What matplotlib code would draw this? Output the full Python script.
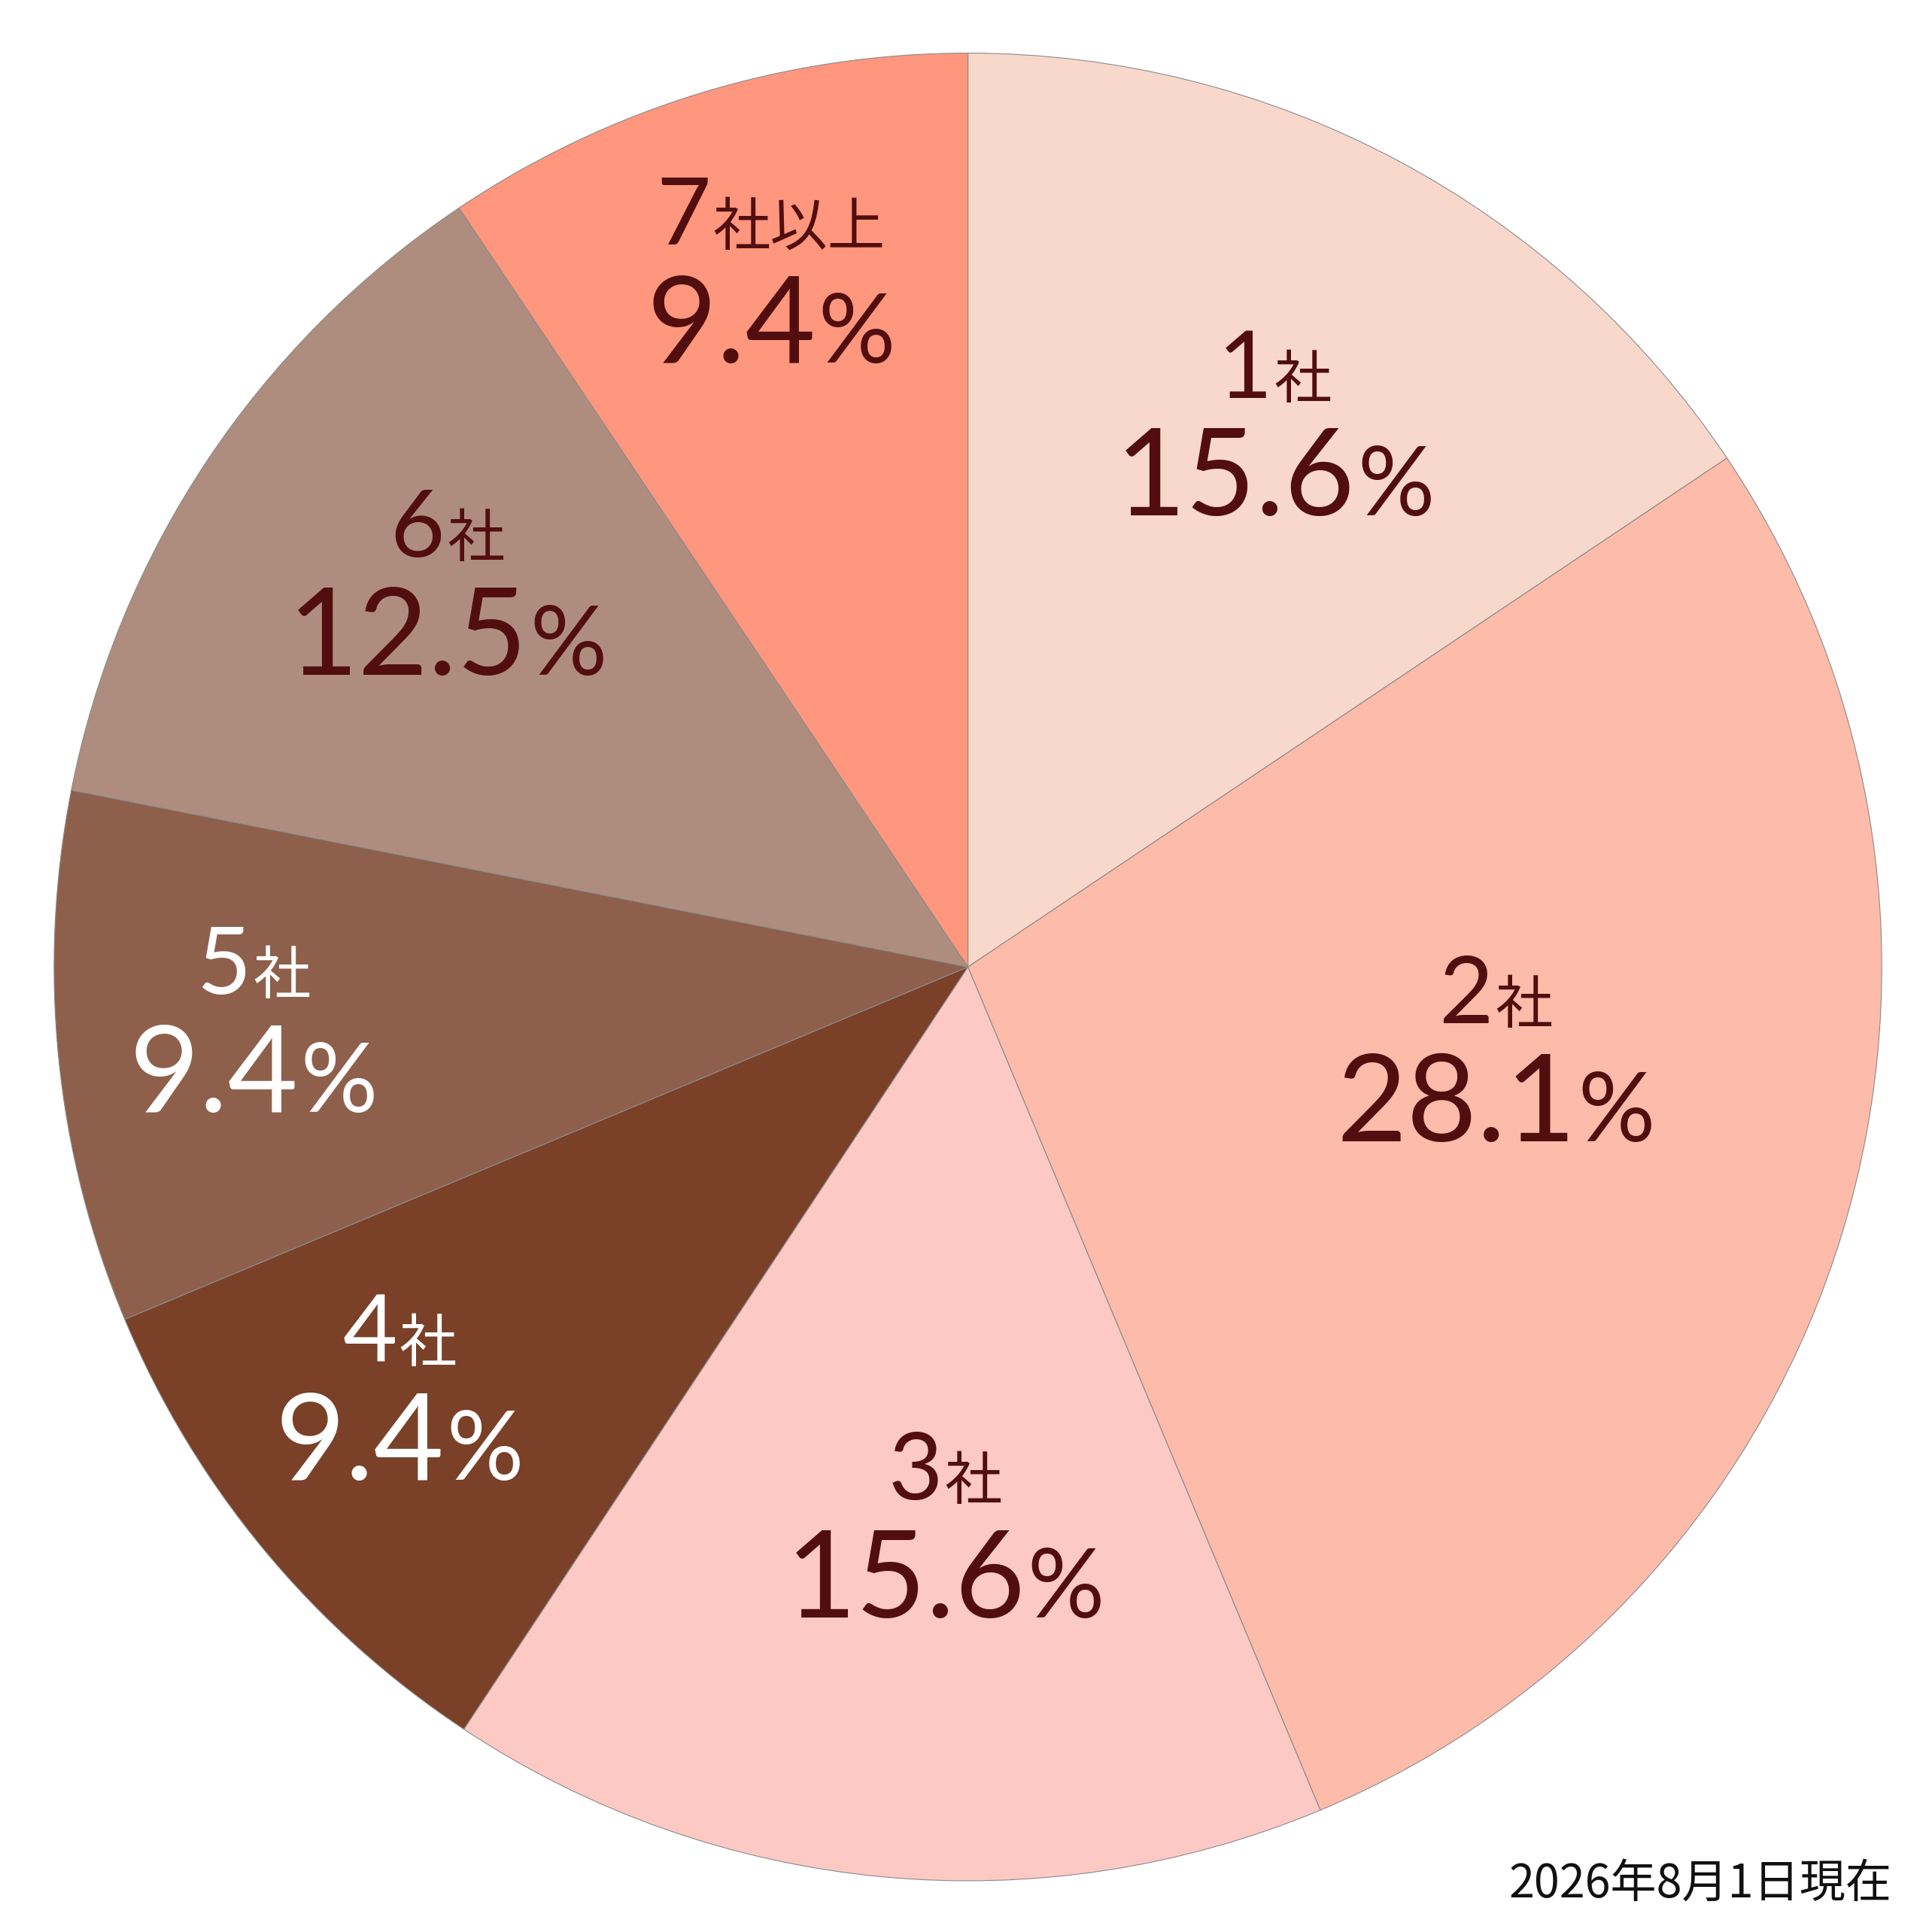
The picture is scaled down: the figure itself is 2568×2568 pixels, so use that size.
import matplotlib
matplotlib.use("Agg")
import matplotlib.pyplot as plt
import numpy as np
from matplotlib.offsetbox import TextArea, HPacker, VPacker, AnnotationBbox

# データ
categories = ["1", "2", "3", "4", "5", "6", "7"]
suffixes = ["社", "社", "社", "社", "社", "社", "社以上"]
values = [15.6, 28.1, 15.6, 9.4, 9.4, 12.5, 9.4]
note = "2026年8月1日現在"

# スタイル
colors = ["#F9D8CC", "#FDBBAA", "#FCC9C5", "#7A4028", "#8E604C", "#AF8D7E", "#FF967E"]
text_colors = ["#520E0E", "#520E0E", "#520E0E", "#FFFFFF", "#FFFFFF", "#520E0E", "#520E0E"]
# ラベル位置 (半径, 角度のずらし)
label_r = [0.674, 0.586, 0.622, 0.780, 0.785, 0.702, 0.782]
label_dang = [-1.8, 6.9, 3.1, -2.5, -0.8, -2.1, -0.9]

FAM = ["Lato", "Noto Sans CJK JP", "DejaVu Sans"]
CJK = ["Noto Sans CJK JP", "DejaVu Sans"]

fig = plt.figure(figsize=(25.68, 25.68), dpi=100)
ax = fig.add_axes([0.028, 0.0265, 0.946, 0.946])

wedges, _ = ax.pie(values, colors=colors, startangle=90, counterclock=False,
                   radius=1.0, wedgeprops=dict(edgecolor="#8a8a8a", linewidth=0.8))
ax.set_xlim(-1, 1)
ax.set_ylim(-1, 1)
ax.set_aspect("equal")
ax.axis("off")

for i, w in enumerate(wedges):
    ang = np.deg2rad((w.theta1 + w.theta2) / 2 + label_dang[i])
    x = label_r[i] * np.cos(ang)
    y = label_r[i] * np.sin(ang)
    c = text_colors[i]
    row1 = HPacker(children=[
        TextArea(categories[i], textprops=dict(size=90, color=c, family=FAM)),
        TextArea(suffixes[i], textprops=dict(size=55, color=c, family=CJK)),
    ], align="baseline", pad=0, sep=2)
    row2 = HPacker(children=[
        TextArea(f"{values[i]:.1f}", textprops=dict(size=116, color=c, family=FAM)),
        TextArea("%", textprops=dict(size=92, color=c, family=FAM)),
    ], align="baseline", pad=0, sep=2)
    box = VPacker(children=[row1, row2], align="center", pad=0, sep=12)
    ab = AnnotationBbox(box, (x, y), xycoords="data", box_alignment=(0.5, 0.5),
                        frameon=False, pad=0)
    ax.add_artist(ab)

fig.text(2514 / 2568, 1 - 2522 / 2568, note, ha="right", va="baseline",
         size=44, color="#111111", family=CJK)

fig.savefig("out.png", dpi=100, facecolor="white")
